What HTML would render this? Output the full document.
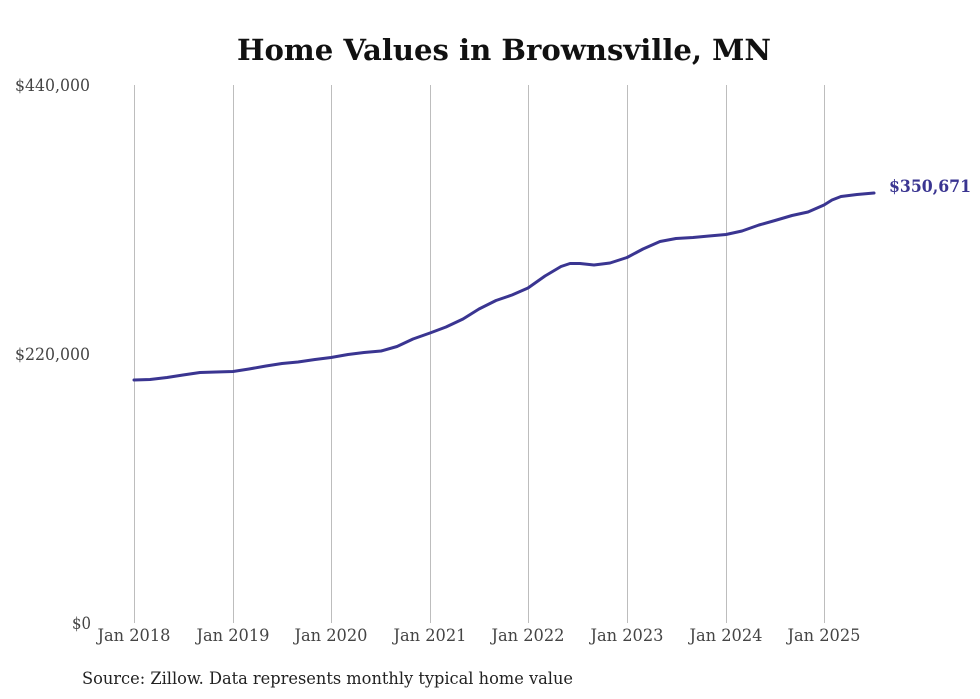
<!DOCTYPE html>
<html><head><style>
html,body{margin:0;padding:0;background:#fff;}
svg{display:block;}
text{font-family:"DejaVu Serif","Liberation Serif",serif;font-stretch:condensed;}
</style></head><body>
<svg width="980" height="699" viewBox="0 0 980 699" xmlns="http://www.w3.org/2000/svg">
<rect width="980" height="699" fill="#fff"/>
<text x="504" y="60" text-anchor="middle" font-size="29" font-weight="bold" fill="#111" textLength="534" lengthAdjust="spacingAndGlyphs">Home Values in Brownsville, MN</text>
<g stroke="#bdbdbd" stroke-width="1">
<line x1="134.5" y1="85" x2="134.5" y2="623"/>
<line x1="233.5" y1="85" x2="233.5" y2="623"/>
<line x1="331.5" y1="85" x2="331.5" y2="623"/>
<line x1="430.5" y1="85" x2="430.5" y2="623"/>
<line x1="528.5" y1="85" x2="528.5" y2="623"/>
<line x1="627.5" y1="85" x2="627.5" y2="623"/>
<line x1="726.5" y1="85" x2="726.5" y2="623"/>
<line x1="824.5" y1="85" x2="824.5" y2="623"/>
</g>
<g font-size="17" fill="#444">
<text x="15" y="91" textLength="75" lengthAdjust="spacingAndGlyphs">$440,000</text>
<text x="15" y="360" textLength="75" lengthAdjust="spacingAndGlyphs">$220,000</text>
<text x="72" y="629" textLength="19" lengthAdjust="spacingAndGlyphs">$0</text>
</g>
<g font-size="17" fill="#444" text-anchor="middle">
<text x="134" y="641" textLength="73" lengthAdjust="spacingAndGlyphs">Jan 2018</text>
<text x="233" y="641" textLength="73" lengthAdjust="spacingAndGlyphs">Jan 2019</text>
<text x="331" y="641" textLength="73" lengthAdjust="spacingAndGlyphs">Jan 2020</text>
<text x="430" y="641" textLength="73" lengthAdjust="spacingAndGlyphs">Jan 2021</text>
<text x="528" y="641" textLength="73" lengthAdjust="spacingAndGlyphs">Jan 2022</text>
<text x="627" y="641" textLength="73" lengthAdjust="spacingAndGlyphs">Jan 2023</text>
<text x="726" y="641" textLength="73" lengthAdjust="spacingAndGlyphs">Jan 2024</text>
<text x="824" y="641" textLength="73" lengthAdjust="spacingAndGlyphs">Jan 2025</text>
</g>
<polyline fill="none" stroke="#3a3591" stroke-width="3" stroke-linejoin="round" stroke-linecap="round"
points="134,380 150,379.5 167,377.5 183,375 200,372.5 216,372 233,371.5 249,369 266,366 282,363.5 298,362 315,359.5 331,357.5 348,354.5 364,352.5 381,351 397,346.5 413,339 430,333 446,327 463,319 479,309 496,300.5 512,295 528,288 545,276 561,266.5 570,263.5 580,263.5 594,265 610,263 627,257.5 643,249 660,241.5 676,238.5 693,237.5 709,236 726,234.5 742,231 759,225 775,220.5 792,215.5 808,212 824,205 832,200 841,196.5 857,194.5 874,193"/>
<text x="889" y="192" font-size="17" font-weight="bold" fill="#3a3591" textLength="82" lengthAdjust="spacingAndGlyphs">$350,671</text>
<text x="82" y="684" font-size="17" fill="#222" textLength="491" lengthAdjust="spacingAndGlyphs">Source: Zillow. Data represents monthly typical home value</text>
</svg>
</body></html>
